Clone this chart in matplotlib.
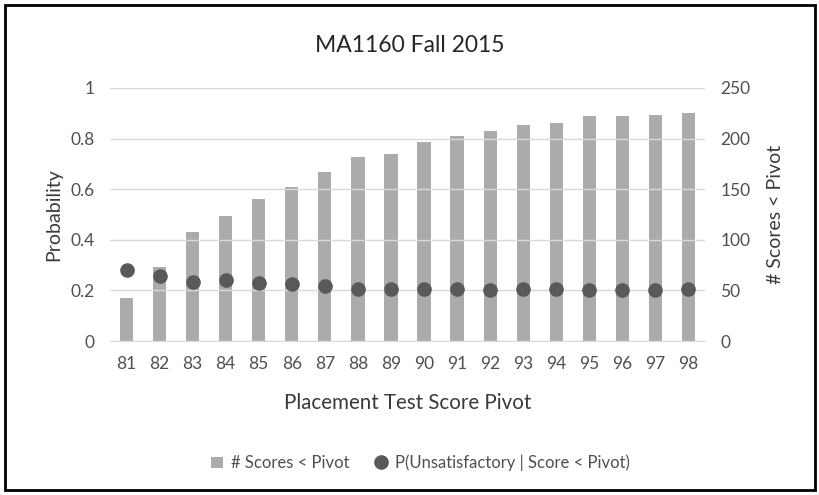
import numpy as np
import matplotlib.pyplot as plt
from matplotlib.patches import Rectangle

# data
pivots = [81, 82, 83, 84, 85, 86, 87, 88, 89, 90, 91, 92, 93, 94, 95, 96, 97, 98]
n_scores = [42, 73, 108, 124, 140, 152, 167, 182, 185, 197, 203, 208, 213, 215, 222, 222, 223, 225]
p_unsat = [0.281, 0.257, 0.232, 0.241, 0.228, 0.224, 0.219, 0.205, 0.205, 0.205,
           0.204, 0.201, 0.207, 0.205, 0.201, 0.201, 0.201, 0.205]

plt.rcParams['font.family'] = ['Lato', 'DejaVu Sans']
txt = '#3a3a3a'
tick_col = '#505050'

fig = plt.figure(figsize=(8.2, 4.95), dpi=100)
ax = fig.add_axes([110 / 820, 1 - 341 / 495, 595 / 820, 253 / 495])
ax2 = ax.twinx()

x = np.arange(len(pivots))

# bars on the right axis, drawn behind the dots
ax2.bar(x, n_scores, width=0.4, color='#ababab', zorder=2, label='# Scores < Pivot')
ax2.set_ylim(0, 250)
ax2.set_yticks([0, 50, 100, 150, 200, 250])

ax.set_ylim(0, 1)
ax.set_yticks([0, 0.2, 0.4, 0.6, 0.8, 1.0])
ax.set_yticklabels(['0', '0.2', '0.4', '0.6', '0.8', '1'])
ax.set_xlim(-0.5, len(pivots) - 0.5)
ax.set_xticks(x)
ax.set_xticklabels([str(p) for p in pivots])
ax.grid(axis='y', color='#d9d9d9', linewidth=1)
ax.set_axisbelow(True)

ax.set_zorder(ax2.get_zorder() + 1)
ax.patch.set_visible(False)
ax.plot(x, p_unsat, 'o', color='#595959', markersize=9.5, zorder=5,
        label='P(Unsatisfactory | Score < Pivot)')

for a in (ax, ax2):
    for s in a.spines.values():
        s.set_visible(False)
    a.tick_params(length=0, labelsize=12.5, colors=tick_col)
ax.spines['bottom'].set_visible(True)
ax.spines['bottom'].set_color('#d9d9d9')
ax.tick_params(axis='y', pad=11)
ax2.tick_params(axis='y', pad=11)
ax.tick_params(axis='x', pad=11)

ax.set_ylabel('Probability', fontsize=14, color=txt, labelpad=6)
ax2.set_ylabel('# Scores < Pivot', fontsize=14, color=txt, labelpad=12)
ax.set_xlabel('Placement Test Score Pivot', fontsize=14.8, color=txt, labelpad=15)

fig.text(0.5, 1 - 45 / 495, 'MA1160 Fall 2015', ha='center', va='center',
         fontsize=16.5, color='#262626')

h1, l1 = ax2.get_legend_handles_labels()
h2, l2 = ax.get_legend_handles_labels()
fig.legend(h1 + h2, l1 + l2, loc='center', bbox_to_anchor=(0.513, 1 - 463 / 495),
           ncol=2, frameon=False, fontsize=12, labelcolor=tick_col,
           handlelength=0.7, handleheight=0.7, columnspacing=1.5, handletextpad=0.5)

fig.patches.append(Rectangle((0.006, 0.01), 0.988, 0.98, transform=fig.transFigure,
                             fill=False, edgecolor='black', linewidth=2))

fig.savefig('out.png', dpi=100)
